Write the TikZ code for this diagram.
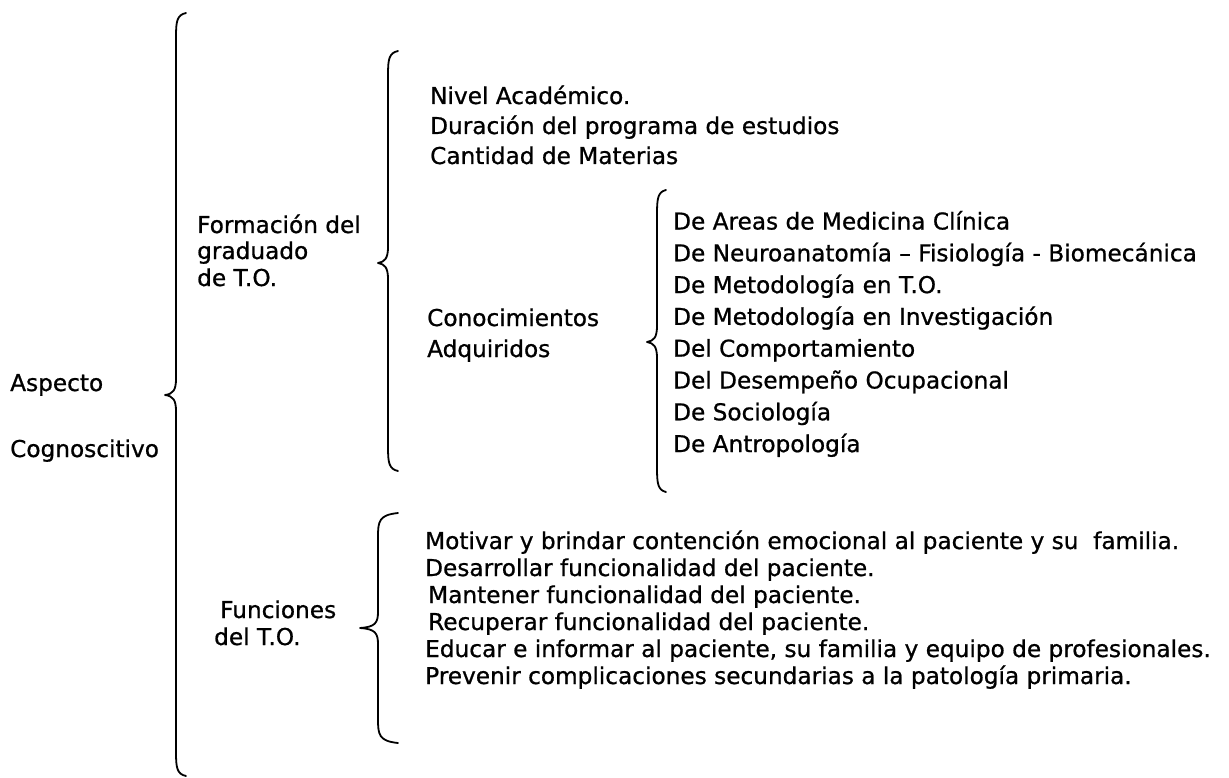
\documentclass[tikz,border=0pt]{standalone}
\usepackage{fontspec}
\setmainfont[FakeBold=0.8]{DejaVu Sans}
\newcommand{\drawbrace}[6]{% xv, ytop, ytip, ybot, xtip, xend
  \draw[bracestyle] (#6,#2) .. controls ({#1+1},{#2+2}) and (#1,{#2+8}) .. (#1,{#2+24})
    -- (#1,{#3-16}) .. controls (#1,{#3-5}) and ({#1-3},{#3-1}) .. (#5,#3)
    .. controls ({#1-3},{#3+1}) and (#1,{#3+5}) .. (#1,{#3+16})
    -- (#1,{#4-24}) .. controls (#1,{#4-8}) and ({#1+1},{#4-2}) .. (#6,#4);}
\begin{document}
\begin{tikzpicture}[x=1pt,y=-1pt,
  bracestyle/.style={line width=1.8pt, line cap=round, line join=round, black},
  txt/.style={anchor=base west, inner sep=0pt, font=\fontsize{23.2}{27}\selectfont, text=black}]
\fill[white] (0,0) rectangle (1229,778);
\useasboundingbox (0,0) rectangle (1229,778);
% braces
\drawbrace{176}{13}{395}{776}{165}{186}
\drawbrace{388}{51}{263}{471}{378}{398}
\drawbrace{657}{190}{342}{492}{647}{666}
\drawbrace{378}{513}{628}{743}{360}{398}
% level 1
\node[txt] (asp) at (10,391) {Aspecto};
\node[txt] (cog) at (10,457) {Cognoscitivo};
% level 2
\node[txt] (f1) at (197,233) {Formación del};
\node[txt] (f2) at (197,259) {graduado};
\node[txt] (f3) at (197,286) {de T.O.};
\node[txt] (fu1) at (220,618) {Funciones};
\node[txt] (fu2) at (214,645) {del T.O.};
% formación items
\node[txt] (n1) at (430,104) {Nivel Académico.};
\node[txt] (n2) at (430,134) {Duración del programa de estudios};
\node[txt] (n3) at (430,164) {Cantidad de Materias};
\node[txt] (c1) at (427,326) {Conocimientos};
\node[txt] (c2) at (427,357) {Adquiridos};
% conocimientos items
\node[txt] (k1) at (673,229.5) {De Areas de Medicina Clínica};
\node[txt] (k2) at (673,261.3) {De Neuroanatomía – Fisiología - Biomecánica};
\node[txt] (k3) at (673,293.1) {De Metodología en T.O.};
\node[txt] (k4) at (673,324.9) {De Metodología en Investigación};
\node[txt] (k5) at (673,356.7) {Del Comportamiento};
\node[txt] (k6) at (673,388.5) {Del Desempeño Ocupacional};
\node[txt] (k7) at (673,420.3) {De Sociología};
\node[txt] (k8) at (673,452.1) {De Antropología};
% funciones items
\node[txt] (m1) at (425,549) {Motivar y brindar contención emocional al paciente y su~~familia.};
\node[txt] (m2) at (425,576) {Desarrollar funcionalidad del paciente.};
\node[txt] (m3) at (428,603) {Mantener funcionalidad del paciente.};
\node[txt] (m4) at (428,630) {Recuperar funcionalidad del paciente.};
\node[txt] (m5) at (425,657) {Educar e informar al paciente, su familia y equipo de profesionales.};
\node[txt] (m6) at (425,684) {Prevenir complicaciones secundarias a la patología primaria.};
\end{tikzpicture}
\end{document}
